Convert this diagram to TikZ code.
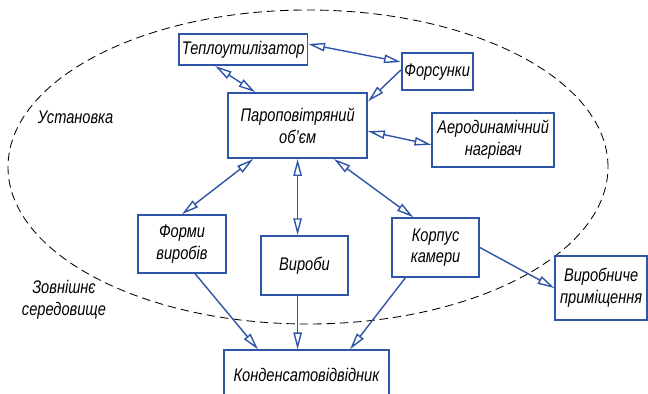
\documentclass[tikz,border=0pt]{standalone}
\usepackage{fontspec}
\setmainfont{Liberation Sans}[FakeStretch=0.8]
\usetikzlibrary{arrows.meta}
\definecolor{lineblue}{RGB}{47,85,168}

\begin{document}
\begin{tikzpicture}[thick, >={Triangle[open, length=12pt, width=6pt]},
	main/.style = {draw=lineblue, line width=1.2pt, fill=white, rectangle, align=center, inner sep=2pt, font=\fontsize{13}{15.6}\selectfont\itshape},
	link/.style = {draw=lineblue, line width=1pt}]
	\useasboundingbox (0,0) rectangle (16.2,-9.85);
	
	\draw[black, line width=0.6pt, dash pattern=on 6pt off 3.5pt] (7.7,-4.175) ellipse [x radius=7.5, y radius=3.925];
	\node[font=\fontsize{13}{15.6}\selectfont\itshape] (u) at (1.89,-2.93) {Установка};
	\node[font=\fontsize{13}{15.6}\selectfont\itshape, align=center] (z) at (1.6,-7.5) {Зовнішнє\\середовище};
	
	\node[main, minimum width=3.2cm, minimum height=0.78cm] (1) at (6.08,-1.24) {Теплоутилізатор};
	\node[main, minimum width=1.55cm, minimum height=0.93cm] (2) at (10.93,-1.79) {Форсунки};
	\node[main, minimum width=3.48cm, minimum height=1.63cm] (3) at (7.44,-3.14) {Пароповітряний\\об’єм};
	\node[main, minimum width=3.05cm, minimum height=1.35cm] (4) at (12.33,-3.5) {Аеродинамічний\\нагрівач};
	\node[main, minimum width=2.2cm, minimum height=1.45cm] (5) at (4.55,-6.1) {Форми\\виробів};
	\node[main, minimum width=2.18cm, minimum height=1.48cm] (6) at (7.61,-6.64) {Вироби};
	\node[main, minimum width=2.18cm, minimum height=1.48cm] (7) at (10.89,-6.19) {Корпус\\камери};
	\node[main, minimum width=2.3cm, minimum height=1.6cm] (8) at (15.03,-7.2) {Виробниче\\приміщення};
	\node[main, minimum width=4.13cm, minimum height=1.25cm] (9) at (7.66,-9.38) {Конденсатовідвідник};
	
	\draw[link, <->] ([yshift=0.14cm]1.east) -- ([yshift=0.24cm]2.west);
	\draw[link, <->] ([xshift=-0.7cm]1.south) -- ([xshift=-1.06cm]3.north);
	\draw[link, ->] ([yshift=0.04cm]2.west) -- ([yshift=-0.23cm]3.north east);
	\draw[link, <->] ([yshift=-0.14cm]3.east) -- ([yshift=-0.12cm]4.west);
	\draw[link, <->] ([xshift=-1.11cm]3.south) -- (5.north);
	\draw[link, <->] (3.south) -- (3.south |- 6.north);
	\draw[link, <->] ([xshift=0.91cm]3.south) -- ([xshift=-0.56cm]7.north);
	\draw[link, ->] (7.east) -- (8.west);
	\draw[link, ->] ([xshift=0.33cm]5.south) -- ([xshift=-1.21cm]9.north);
	\draw[link, ->] (3.south |- 6.south) -- (3.south |- 9.north);
	\draw[link, ->] ([xshift=-0.76cm]7.south) -- ([xshift=1.09cm]9.north);
	
\end{tikzpicture}
\end{document}
